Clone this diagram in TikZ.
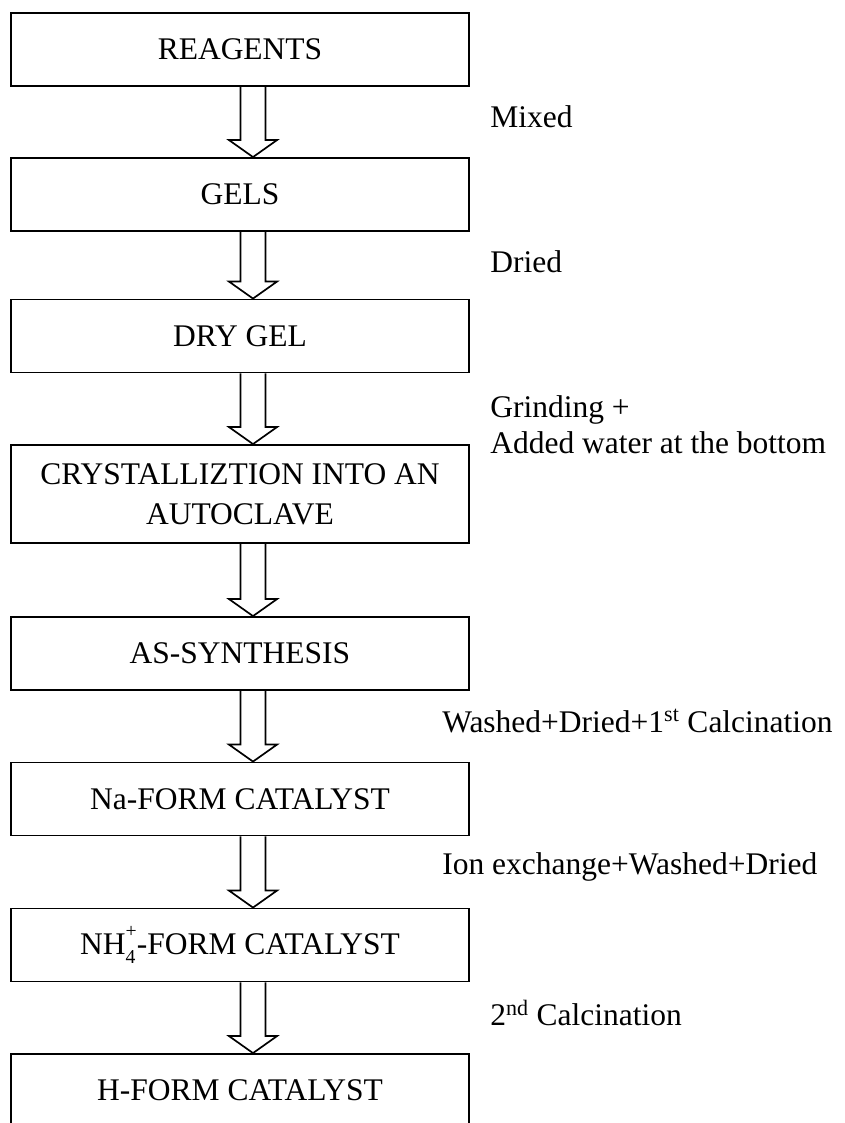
\documentclass[tikz,border=0pt]{standalone}
\usepackage{fontspec}
\setmainfont{Liberation Serif}
\usepackage{tikz}
\usetikzlibrary{calc}

\newcommand{\smallidx}[2]{\raisebox{#1}{\fontsize{14}{14}\selectfont #2}}

\begin{document}
\begin{tikzpicture}[
    x=0.025cm, y=-0.025cm,
    box/.style={draw, line width=1.3pt, inner sep=0pt, minimum width=11.45cm, minimum height=1.825cm, align=center, font=\fontsize{22.4}{28.4}\selectfont},
    note/.style={anchor=west, inner sep=0pt, align=left, font=\fontsize{22.4}{25.6}\selectfont},
    hollow/.style={line width=1.2pt, line join=miter}
]

\clip (0,0) rectangle (844,1123);

% --- PROCESS STEPS ---

% 1. Reagents
\node[box] (reag) at (240, 49.5) {REAGENTS};

% 2. Gels
\node[box] (gels) at (240, 194.5) {GELS};

% 3. Dry gel
\node[box] (dry) at (240, 336) {DRY GEL};

% 4. Crystallization
\node[box, minimum height=2.45cm] (cryst) at (240, 494)
{CRYSTALLIZTION INTO AN\\AUTOCLAVE};

% 5. As-synthesis
\node[box] (assyn) at (240, 653.5) {AS-SYNTHESIS};

% 6. Na-form
\node[box] (naform) at (240, 799) {Na-FORM CATALYST};

% 7. NH4-form
\node[box] (nhform) at (240, 945)
{NH\rlap{\smallidx{-0.3em}{4}}\smallidx{0.55em}{+}-FORM CATALYST};

% 8. H-form
\node[box] (hform) at (240, 1090.5) {H-FORM CATALYST};

% --- CONNECTIONS (hollow block arrows) ---

\foreach \a/\b in {reag/gels, gels/dry, dry/cryst, cryst/assyn, assyn/naform, naform/nhform, nhform/hform}
  \draw[hollow] ($(\a.south)+(0.5,0)$) -- ($(\b.north)+(0.5,-17)$) -- ($(\b.north)+(-11,-17)$)
    -- ($(\b.north)+(13,0)$) -- ($(\b.north)+(37,-17)$) -- ($(\b.north)+(25.5,-17)$) -- ($(\a.south)+(25.5,0)$);

% --- STEP LABELS ---

\node[note] (mixed) at (490, 117) {Mixed};
\node[note] (dried) at (490, 262) {Dried};
\node[note] (grind) at (490, 425) {Grinding +\\Added water at the bottom};
\node[note] (wash) at (442, 721) {Washed+Dried+1\textsuperscript{st} Calcination};
\node[note] (ionex) at (442, 867) {Ion exchange+Washed+Dried};
\node[note] (calc2) at (490, 1013) {2\textsuperscript{nd} Calcination};

\end{tikzpicture}
\end{document}
